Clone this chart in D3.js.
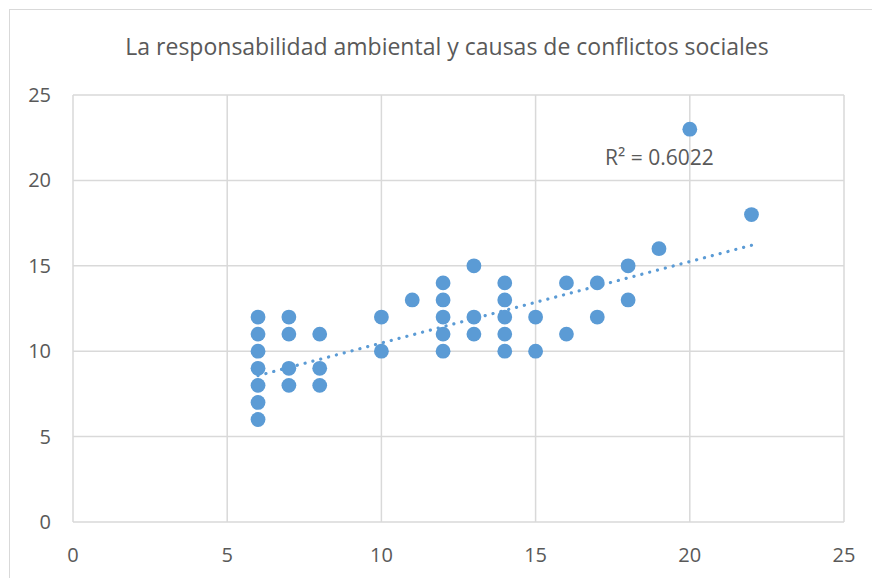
<!DOCTYPE html>
<html>
<head>
<meta charset="utf-8">
<script src="https://cdn.jsdelivr.net/npm/d3@7"></script>
<style>
  body { margin: 0; background: #fff; }
  text { font-family: "Open Sans", sans-serif; fill: #595959; }
</style>
</head>
<body>
<div id="chart"></div>
<script>
// data (x = responsabilidad ambiental, y = conflictos sociales)
let xValues = [6,6,6,6,6,6,6, 7,7,7,7, 8,8,8, 10,10, 11, 12,12,12,12,12, 13,13,13,
               14,14,14,14,14, 15,15, 16,16, 17,17, 18,18, 19, 20, 22];
let yValues = [12,11,10,9,8,7,6, 12,11,9,8, 11,9,8, 12,10, 13, 14,13,12,11,10, 15,12,11,
               14,13,12,11,10, 12,10, 14,11, 14,12, 15,13, 16, 23, 18];
// trendline end points as drawn in the picture
let trendX = [6, 22];
let trendY = [8.57, 16.2];
let xTicks = [0, 5, 10, 15, 20, 25];
let yTicks = [0, 5, 10, 15, 20, 25];
let title = "La responsabilidad ambiental y causas de conflictos sociales";
let r2Label = "R\u00B2 = 0.6022";

let width = 872, height = 578;
let margin = {top: 95, right: 28, bottom: 56, left: 73};

let svg = d3.select("#chart").append("svg")
    .attr("width", width)
    .attr("height", height);

// chart border
svg.append("rect")
    .attr("x", 9.5).attr("y", 9.5)
    .attr("width", width + 20).attr("height", height + 20)
    .attr("fill", "none")
    .attr("stroke", "#d9d9d9")
    .attr("stroke-width", 1);

let x = d3.scaleLinear().domain([0, 25]).range([margin.left, width - margin.right]);
let y = d3.scaleLinear().domain([0, 25]).range([height - margin.bottom, margin.top]);

// gridlines
svg.append("g")
    .selectAll("line")
    .data(yTicks)
    .enter().append("line")
    .attr("x1", x(0)).attr("x2", x(25))
    .attr("y1", d => y(d)).attr("y2", d => y(d))
    .attr("stroke", "#d9d9d9")
    .attr("stroke-width", 1.5);

svg.append("g")
    .selectAll("line")
    .data(xTicks)
    .enter().append("line")
    .attr("x1", d => x(d)).attr("x2", d => x(d))
    .attr("y1", y(0)).attr("y2", y(25))
    .attr("stroke", "#d9d9d9")
    .attr("stroke-width", 1.5);

// tick labels
svg.append("g")
    .selectAll("text")
    .data(yTicks)
    .enter().append("text")
    .attr("x", 51)
    .attr("y", d => y(d) + 7)
    .attr("text-anchor", "end")
    .attr("font-size", "20px")
    .text(d => d);

svg.append("g")
    .selectAll("text")
    .data(xTicks)
    .enter().append("text")
    .attr("x", d => x(d))
    .attr("y", 562)
    .attr("text-anchor", "middle")
    .attr("font-size", "20px")
    .text(d => d);

// title
svg.append("text")
    .attr("x", 447)
    .attr("y", 55)
    .attr("text-anchor", "middle")
    .attr("font-size", "23px")
    .text(title);

// trendline (dotted)
svg.append("line")
    .attr("x1", x(trendX[0])).attr("y1", y(trendY[0]))
    .attr("x2", x(trendX[1])).attr("y2", y(trendY[1]))
    .attr("stroke", "#5b9bd5")
    .attr("stroke-width", 3.2)
    .attr("stroke-linecap", "round")
    .attr("stroke-dasharray", "0.1 8");

// dots
let points = xValues.map((d, i) => ({x: d, y: yValues[i]}));
svg.append("g")
    .selectAll("circle")
    .data(points)
    .enter().append("circle")
    .attr("cx", d => x(d.x))
    .attr("cy", d => y(d.y))
    .attr("r", 7.4)
    .attr("fill", "#5b9bd5");

svg.append("text")
    .attr("x", 605)
    .attr("y", 165)
    .attr("font-size", "21px")
    .text(r2Label);
</script>
</body>
</html>
